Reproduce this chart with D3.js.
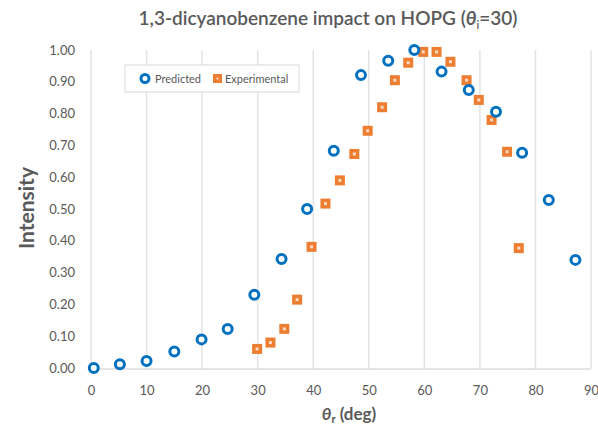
<!DOCTYPE html>
<html><head><meta charset="utf-8">
<script src="https://cdn.jsdelivr.net/npm/d3@7"></script>
<style>body{margin:0;background:#fff;}svg{display:block;font-family:Lato,"Open Sans",sans-serif;}</style>
</head><body>
<script>
const predX = [0.5,5.2,10.0,15.0,19.9,24.6,29.4,34.3,38.9,43.7,48.6,53.5,58.2,63.1,68.0,72.9,77.6,82.4,87.2];
const predY = [0.00,0.012,0.022,0.052,0.090,0.123,0.230,0.343,0.500,0.683,0.921,0.966,1.00,0.932,0.874,0.806,0.677,0.528,0.340];
const expX = [29.9,32.3,34.8,37.1,39.7,42.2,44.8,47.4,49.8,52.4,54.7,57.1,59.8,62.2,64.7,67.6,69.8,72.1,74.9,77.0];
const expY = [0.060,0.080,0.123,0.215,0.381,0.517,0.590,0.673,0.746,0.820,0.905,0.960,0.994,0.994,0.963,0.905,0.843,0.780,0.680,0.377];
const xTicks = [0,10,20,30,40,50,60,70,80,90];
const yTicks = [0,0.1,0.2,0.3,0.4,0.5,0.6,0.7,0.8,0.9,1.0];

const W=598,H=427;
const svg=d3.select("body").append("svg").attr("width",W).attr("height",H);
const x=d3.scaleLinear().domain([0,90]).range([91,591]);
const y=d3.scaleLinear().domain([0,1]).range([368,50]);
const grey="#595959";

// vertical gridlines
svg.append("g").selectAll("line").data(xTicks).join("line")
  .attr("x1",d=>x(d)).attr("x2",d=>x(d)).attr("y1",y(1)).attr("y2",y(0)+1)
  .attr("stroke","#e3e3e3").attr("stroke-width",1.5);
// x axis line
svg.append("line").attr("x1",x(0)).attr("x2",x(90)).attr("y1",y(0)+1).attr("y2",y(0)+1)
  .attr("stroke","#dcdcdc").attr("stroke-width",1.5);

const xa=svg.append("g").attr("transform",`translate(0,${y(0)+1})`)
  .call(d3.axisBottom(x).tickValues(xTicks).tickSize(0).tickPadding(17).tickFormat(d3.format("d")));
const ya=svg.append("g").attr("transform",`translate(${x(0)-16},0)`)
  .call(d3.axisLeft(y).tickValues(yTicks).tickSize(0).tickPadding(0).tickFormat(d3.format(".2f")));
[xa,ya].forEach(g=>{g.select(".domain").remove();g.selectAll("text").attr("fill",grey).style("font-size","13px").style("font-family","Lato,sans-serif");});

// title
const t=svg.append("text").attr("x",328).attr("y",25).attr("text-anchor","middle")
  .attr("fill",grey).style("font-size","19px").style("font-weight","600");
t.append("tspan").text("1,3-dicyanobenzene impact on HOPG (");
t.append("tspan").text("θ").style("font-weight","bold").style("font-style","italic");
t.append("tspan").text("i").attr("dy",4).style("font-size","11px");
t.append("tspan").text("=30)").attr("dy",-4);

// y label
svg.append("text").attr("transform","translate(34,208) rotate(-90)").attr("text-anchor","middle")
  .attr("fill",grey).style("font-size","21px").style("font-weight","bold").text("Intensity");

// x label
const xl=svg.append("text").attr("x",349).attr("y",420).attr("text-anchor","middle")
  .attr("fill",grey).style("font-size","17px").style("font-weight","bold");
xl.append("tspan").text("θ").style("font-style","italic");
xl.append("tspan").text("r").attr("dy",3).style("font-size","11px");
xl.append("tspan").text(" (deg)").attr("dy",-3);

const blue="#0070C0",orange="#ED7D31";
const eg=svg.append("g");
eg.selectAll("rect.o").data(expX).join("rect").attr("class","o")
  .attr("x",(d)=>x(d)-5).attr("y",(d,i)=>y(expY[i])-5).attr("width",10).attr("height",10)
  .attr("fill",orange);
eg.selectAll("rect.i").data(expX).join("rect").attr("class","i")
  .attr("x",(d)=>x(d)-1.5).attr("y",(d,i)=>y(expY[i])-1.5).attr("width",3).attr("height",3)
  .attr("fill","#fbd9c3");
svg.append("g").selectAll("circle").data(predX).join("circle")
  .attr("cx",d=>x(d)).attr("cy",(d,i)=>y(predY[i])).attr("r",4.5)
  .attr("fill","#fff").attr("stroke",blue).attr("stroke-width",3);

// legend
const lg=svg.append("g");
lg.append("rect").attr("x",125).attr("y",65).attr("width",174).attr("height",27)
  .attr("fill","#fff").attr("stroke","#d9d9d9").attr("stroke-width",1);
lg.append("circle").attr("cx",145).attr("cy",78.5).attr("r",4).attr("fill","#fff").attr("stroke",blue).attr("stroke-width",3);
lg.append("text").attr("x",155).attr("y",82.5).attr("fill",grey).style("font-size","11px").text("Predicted");
lg.append("rect").attr("x",213).attr("y",74).attr("width",9).attr("height",9).attr("fill",orange);
lg.append("rect").attr("x",216.5).attr("y",77.5).attr("width",2).attr("height",2).attr("fill","#fbd9c3");
lg.append("text").attr("x",225).attr("y",82.5).attr("fill",grey).style("font-size","11px").text("Experimental");
</script>
</body></html>
